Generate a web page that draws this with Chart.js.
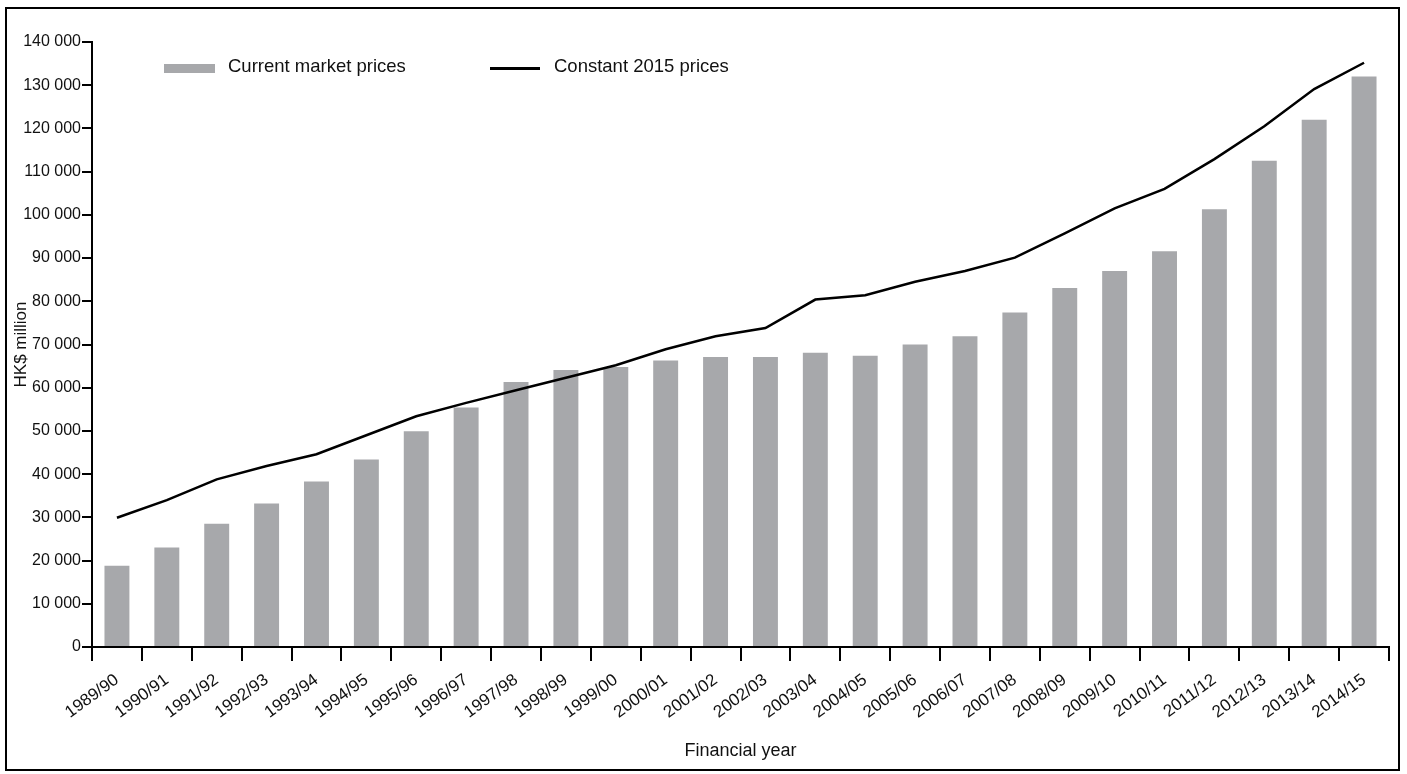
<!DOCTYPE html>
<html>
<head>
<meta charset="utf-8">
<script src="https://cdn.jsdelivr.net/npm/chart.js@4"></script>
<style>
  body { margin: 0; background: #fff; font-family: "Liberation Sans", Arial, sans-serif; }
  #frame { position: absolute; left: 5px; top: 7px; width: 1395px; height: 764px; border: 2px solid #000; box-sizing: border-box; }
  #chart { display: block; }
  .lg { position: absolute; font-size: 18.5px; color: #111; line-height: 20px; }
  .sw { position: absolute; }
</style>
</head>
<body>
<div id="frame"><canvas id="chart" width="1391" height="760"></canvas></div>

<div class="sw" style="left:164px; top:64px; width:51px; height:9px; background:#a7a8ab;"></div>
<div class="lg" style="left:228px; top:56px;">Current market prices</div>
<div class="sw" style="left:490px; top:67px; width:50px; height:3px; background:#000;"></div>
<div class="lg" style="left:554px; top:56px;">Constant 2015 prices</div>

<script>
const years = ['1989/90', '1990/91', '1991/92', '1992/93', '1993/94', '1994/95', '1995/96',
    '1996/97', '1997/98', '1998/99', '1999/00', '2000/01', '2001/02', '2002/03', '2003/04',
    '2004/05', '2005/06', '2006/07', '2007/08', '2008/09', '2009/10', '2010/11', '2011/12',
    '2012/13', '2013/14', '2014/15'];

// current market prices (bars), HK$ million
const currentPrices = [18800, 23000, 28500, 33200, 38300, 43400, 49900, 55400, 61300, 64100,
    64800, 66300, 67100, 67100, 68100, 67400, 70000, 71900, 77400, 83100, 87000, 91600,
    101300, 112500, 122000, 132000];

// constant 2015 prices (line), HK$ million
const constantPrices = [29900, 34000, 38800, 41900, 44600, 49000, 53400, 56500, 59400, 62300,
    65200, 68900, 71900, 73800, 80400, 81400, 84500, 87000, 90100, 95700, 101500, 106000,
    112900, 120500, 129100, 135200];

const yTicks = { min: 0, max: 140000, step: 10000 };

function spaced(v) {
    return String(v).replace(/\B(?=(\d{3})+(?!\d))/g, ' ');
}

document.addEventListener("DOMContentLoaded", function () {

    new Chart(document.getElementById('chart'), {
        data: {
            labels: years,
            datasets: [{
                type: 'line',
                label: 'Constant 2015 prices',
                data: constantPrices,
                borderColor: '#000',
                borderWidth: 2.5,
                pointRadius: 0,
                tension: 0,
                order: 0
            }, {
                type: 'bar',
                label: 'Current market prices',
                data: currentPrices,
                backgroundColor: '#a7a8ab',
                categoryPercentage: 1,
                barPercentage: 0.5,
                order: 1
            }]
        },
        options: {
            responsive: false,
            animation: false,
            layout: { padding: { top: 33, right: 9, left: 0, bottom: 0 } },
            plugins: {
                legend: { display: false },
                tooltip: { enabled: false }
            },
            scales: {
                x: {
                    offset: true,
                    grid: { offset: true, drawOnChartArea: false, color: '#000', tickLength: 14, lineWidth: 2 },
                    border: { color: '#000', width: 2 },
                    ticks: {
                        color: '#111',
                        font: { family: 'Liberation Sans', size: 17 },
                        maxRotation: 36,
                        minRotation: 36,
                        padding: 9,
                        autoSkip: false
                    },
                    title: {
                        display: true,
                        text: 'Financial year',
                        color: '#111',
                        font: { family: 'Liberation Sans', size: 18 },
                        padding: { top: 0, bottom: 7 }
                    },
                    afterFit: function (scale) { scale.height = 122; }
                },
                y: {
                    min: yTicks.min,
                    max: yTicks.max,
                    grid: { drawOnChartArea: false, color: '#000', tickLength: 10, lineWidth: 2 },
                    border: { color: '#000', width: 2 },
                    ticks: {
                        stepSize: yTicks.step,
                        color: '#111',
                        font: { family: 'Liberation Sans', size: 16 },
                        padding: 1,
                        callback: function (v) { return spaced(v); }
                    },
                    title: {
                        display: true,
                        text: 'HK$ million',
                        color: '#111',
                        font: { family: 'Liberation Sans', size: 17 },
                        padding: { top: 4, bottom: 0 }
                    },
                    afterFit: function (scale) { scale.width = 85; }
                }
            }
        }
    });

});
</script>
</body>
</html>
